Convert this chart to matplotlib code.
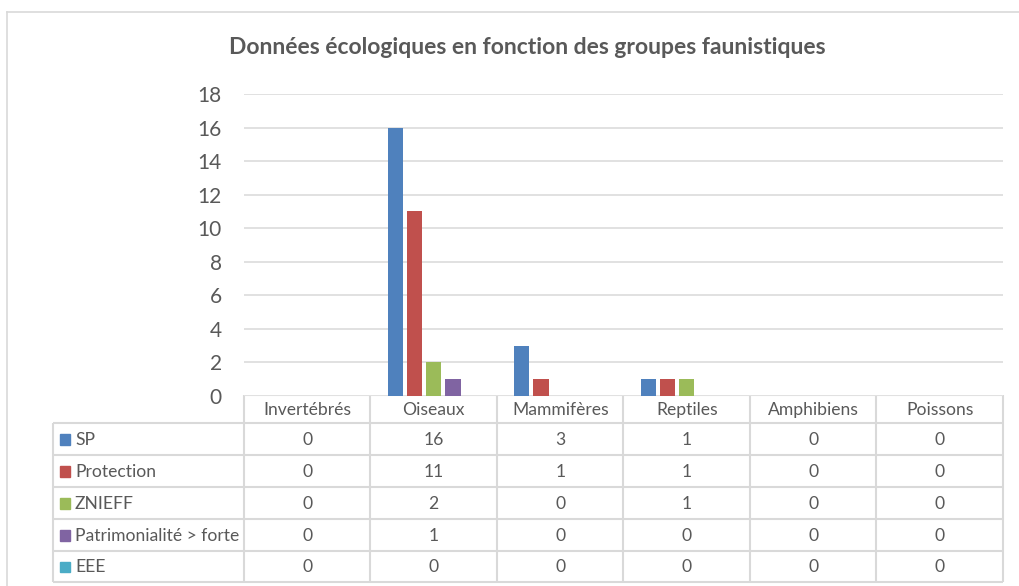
import matplotlib.pyplot as plt
import numpy as np

plt.rcParams['font.family'] = ['Lato', 'DejaVu Sans']

# Données par groupe faunistique
groupes = ['Invertébrés', 'Oiseaux', 'Mammifères', 'Reptiles', 'Amphibiens', 'Poissons']
series = ['SP', 'Protection', 'ZNIEFF', 'Patrimonialité > forte', 'EEE']
sp = [0, 16, 3, 1, 0, 0]
protection = [0, 11, 1, 1, 0, 0]
znieff = [0, 2, 0, 1, 0, 0]
patrimonialite = [0, 1, 0, 0, 0, 0]
eee = [0, 0, 0, 0, 0, 0]
couleurs = ['#4F81BD', '#C0504D', '#9BBB59', '#8064A2', '#4BACC6']

valeurs = [sp, protection, znieff, patrimonialite, eee]
texte = '#595959'
trait = '#D9D9D9'

W, H = 1019, 586
fig = plt.figure(figsize=(W / 100, H / 100), dpi=100)

# zone du graphique (en pixels)
x0, x1 = 244, 1003
y_haut, y_bas = 94, 396
ax = fig.add_axes([x0 / W, 1 - y_bas / H, (x1 - x0) / W, (y_bas - y_haut) / H])

x = np.arange(len(groupes))
pas, largeur = 0.152, 0.12
for i, (nom, vals) in enumerate(zip(series, valeurs)):
    ax.bar(x + (i - 2) * pas, vals, largeur, color=couleurs[i], zorder=3, label=nom)

ax.set_xlim(-0.5, len(groupes) - 0.5)
ax.set_ylim(0, 18)
ax.set_yticks(range(0, 19, 2))
ax.set_xticks([])
ax.tick_params(axis='y', length=0, pad=16, labelsize=15, labelcolor=texte)
ax.grid(axis='y', color=trait, linewidth=1.1, zorder=0)
for s in ax.spines.values():
    s.set_visible(False)

fig.text(527 / W, 1 - 47 / H, 'Données écologiques en fonction des groupes faunistiques',
         ha='center', va='center', fontsize=16.5, fontweight='bold', color=texte)

# tableau de données sous le graphique, tracé en pixels
tab = fig.add_axes([0, 0, 1, 1], zorder=-1)
tab.set_xlim(0, W)
tab.set_ylim(H, 0)
tab.axis('off')
tab.patch.set_alpha(0)

# cadre du graphique
tab.plot([7, W], [12, 12], color=trait, lw=1.2)
tab.plot([7, 7], [12, H], color=trait, lw=1.2)

bords = np.linspace(x0, x1, len(groupes) + 1)
lignes = [395, 423, 455, 487, 519, 551, 582]
x_gauche = 53
kw = dict(color=trait, lw=1.5, solid_capstyle='butt')

tab.plot([x0, x1], [lignes[0]] * 2, **kw)
for y in lignes[1:]:
    tab.plot([x_gauche, x1], [y, y], **kw)
for xb in bords:
    tab.plot([xb, xb], [lignes[0], lignes[-1]], **kw)
tab.plot([x_gauche, x_gauche], [lignes[1], lignes[-1]], **kw)

taille = 12.6
for j, g in enumerate(groupes):
    tab.text((bords[j] + bords[j + 1]) / 2, (lignes[0] + lignes[1]) / 2 + 1, g,
             ha='center', va='center', fontsize=taille, color=texte)

for i, (nom, vals) in enumerate(zip(series, valeurs)):
    yc = (lignes[i + 1] + lignes[i + 2]) / 2
    tab.add_patch(plt.Rectangle((60, yc - 5), 10.5, 10.5, color=couleurs[i]))
    tab.text(75, yc + 1, nom, ha='left', va='center', fontsize=taille, color=texte)
    for j, v in enumerate(vals):
        tab.text((bords[j] + bords[j + 1]) / 2, yc + 1, str(v),
                 ha='center', va='center', fontsize=taille, color=texte)

fig.savefig('out.png', dpi=100)
